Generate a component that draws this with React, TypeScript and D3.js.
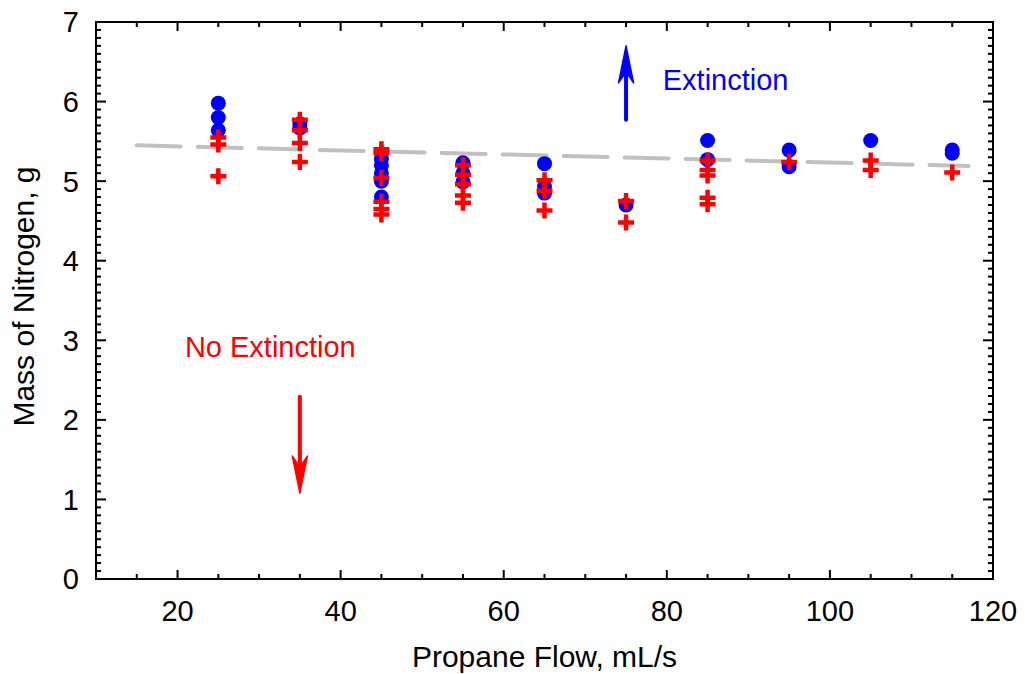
import React from "react";
import * as d3 from "d3";

// Propane flow groups and measured masses (g)
const extinctionX = [25, 25, 25, 35, 35, 45, 45, 45, 45, 45, 55, 55, 55, 65, 65, 65, 75, 85, 85, 95, 95, 105, 115, 115];
const extinctionY = [5.98, 5.8, 5.64, 5.72, 5.67, 5.28, 5.2, 5.1, 5.0, 4.8, 5.23, 5.1, 4.99, 5.22, 4.93, 4.85, 4.7, 5.51, 5.27, 5.39, 5.18, 5.51, 5.39, 5.35];
const noExtinctionX = [25, 25, 25, 35, 35, 35, 35, 45, 45, 45, 45, 45, 45, 55, 55, 55, 55, 55, 65, 65, 65, 75, 75, 85, 85, 85, 85, 85, 95, 105, 105, 115];
const noExtinctionY = [5.55, 5.46, 5.06, 5.77, 5.64, 5.48, 5.24, 5.4, 5.35, 5.04, 4.74, 4.65, 4.58, 5.2, 5.08, 4.96, 4.82, 4.73, 5.01, 4.88, 4.63, 4.75, 4.48, 5.26, 5.14, 5.07, 4.79, 4.71, 5.24, 5.26, 5.14, 5.11];
const trendX = [15, 117];
const trendY = [5.45, 5.19];
const xTickLabels = [20, 40, 60, 80, 100, 120];
const yTickLabels = [0, 1, 2, 3, 4, 5, 6, 7];
const xTitle = "Propane Flow, mL/s";
const yTitle = "Mass of Nitrogen, g";
const upLabel = "Extinction";
const downLabel = "No Extinction";
// annotation arrows: x, from, to (data units)
const upArrow = [75, 5.77, 6.7];
const downArrow = [35, 2.29, 1.08];
const upLabelPos = [79.5, 6.15];
const downLabelPos = [20.9, 2.79];

const W = 1025, H = 674;
const L = 96, R = 993, T = 22, B = 579;
const FONT = "'Liberation Sans', Arial, sans-serif";

export default function App() {
  const x = d3.scaleLinear().domain([10, 120]).range([L, R]);
  const y = d3.scaleLinear().domain([0, 7]).range([B, T]);

  const xMinor = d3.range(10, 120.01, 5);
  const yMinor = d3.range(0, 70.01, 1).map((v) => v / 10);

  const trend = d3.line<number>().x((d, i) => x(trendX[i])).y((d, i) => y(trendY[i]));

  const arrow = (a: number[], color: string) => {
    const ax = x(a[0]);
    const y0 = y(a[1]);
    const y1 = y(a[2]);
    const dir = y1 < y0 ? 1 : -1; // 1 = pointing up
    const hl = 37, hw = 7.5, notch = 26;
    const head = `M${ax},${y1} L${ax - hw},${y1 + dir * hl} L${ax},${y1 + dir * notch} L${ax + hw},${y1 + dir * hl} Z`;
    return (
      <g>
        <line x1={ax} x2={ax} y1={y0} y2={y1 + dir * notch} stroke={color} strokeWidth={4} strokeLinecap="round" />
        <path d={head} fill={color} stroke={color} strokeWidth={1.5} strokeLinejoin="round" />
      </g>
    );
  };

  const plus = (cx: number, cy: number, key: number) => (
    <path key={key} d={`M${cx - 8},${cy} H${cx + 8} M${cx},${cy - 8} V${cy + 8}`} stroke="#ff0000" strokeWidth={4.5} fill="none" />
  );

  return (
    <svg width={W} height={H} style={{ position: "absolute", left: 0, top: 0, background: "#fff" }} fontFamily={FONT}>
      {/* trend line */}
      <path d={trend(trendX) || ""} fill="none" stroke="#c0c0c0" strokeWidth={4} strokeDasharray="44 17" strokeLinecap="round" />

      {/* extinction points */}
      {extinctionX.map((v, i) => (
        <circle key={i} cx={x(v)} cy={y(extinctionY[i])} r={7.5} fill="#0000ff" />
      ))}
      {/* no extinction points */}
      {noExtinctionX.map((v, i) => plus(x(v), y(noExtinctionY[i]), i))}

      {/* annotations */}
      {arrow(upArrow, "#0000ff")}
      {arrow(downArrow, "#ff0000")}
      <text x={x(upLabelPos[0])} y={y(upLabelPos[1])} fill="#0000ff" fontSize={29}>{upLabel}</text>
      <text x={x(downLabelPos[0])} y={y(downLabelPos[1])} fill="#ff0000" fontSize={29}>{downLabel}</text>

      {/* ticks */}
      {xMinor.map((v, i) => {
        const major = xTickLabels.includes(v);
        const len = major ? 9 : 5;
        return (
          <g key={"xt" + i}>
            <line x1={x(v)} x2={x(v)} y1={B} y2={B - len} stroke="#000" strokeWidth={2} />
            <line x1={x(v)} x2={x(v)} y1={T} y2={T + len} stroke="#000" strokeWidth={2} />
          </g>
        );
      })}
      {yMinor.map((v, i) => {
        const major = Math.abs(v - Math.round(v)) < 1e-6;
        const len = major ? 10 : 5;
        return (
          <g key={"yt" + i}>
            <line x1={L} x2={L + len} y1={y(v)} y2={y(v)} stroke="#000" strokeWidth={2} />
            <line x1={R} x2={R - len} y1={y(v)} y2={y(v)} stroke="#000" strokeWidth={2} />
          </g>
        );
      })}

      {/* frame */}
      <rect x={L} y={T} width={R - L} height={B - T} fill="none" stroke="#000" strokeWidth={2} />

      {/* tick labels */}
      {xTickLabels.map((v) => (
        <text key={"xl" + v} x={x(v)} y={621} textAnchor="middle" fontSize={29} fill="#000">{v}</text>
      ))}
      {yTickLabels.map((v) => (
        <text key={"yl" + v} x={79} y={y(v)} dy="0.36em" textAnchor="end" fontSize={29} fill="#000">{v}</text>
      ))}

      {/* axis titles */}
      <text x={(L + R) / 2} y={667} textAnchor="middle" fontSize={30} fill="#000">{xTitle}</text>
      <text transform={`translate(34,${(T + B) / 2 - 4}) rotate(-90)`} textAnchor="middle" fontSize={30} fill="#000">{yTitle}</text>
    </svg>
  );
}
